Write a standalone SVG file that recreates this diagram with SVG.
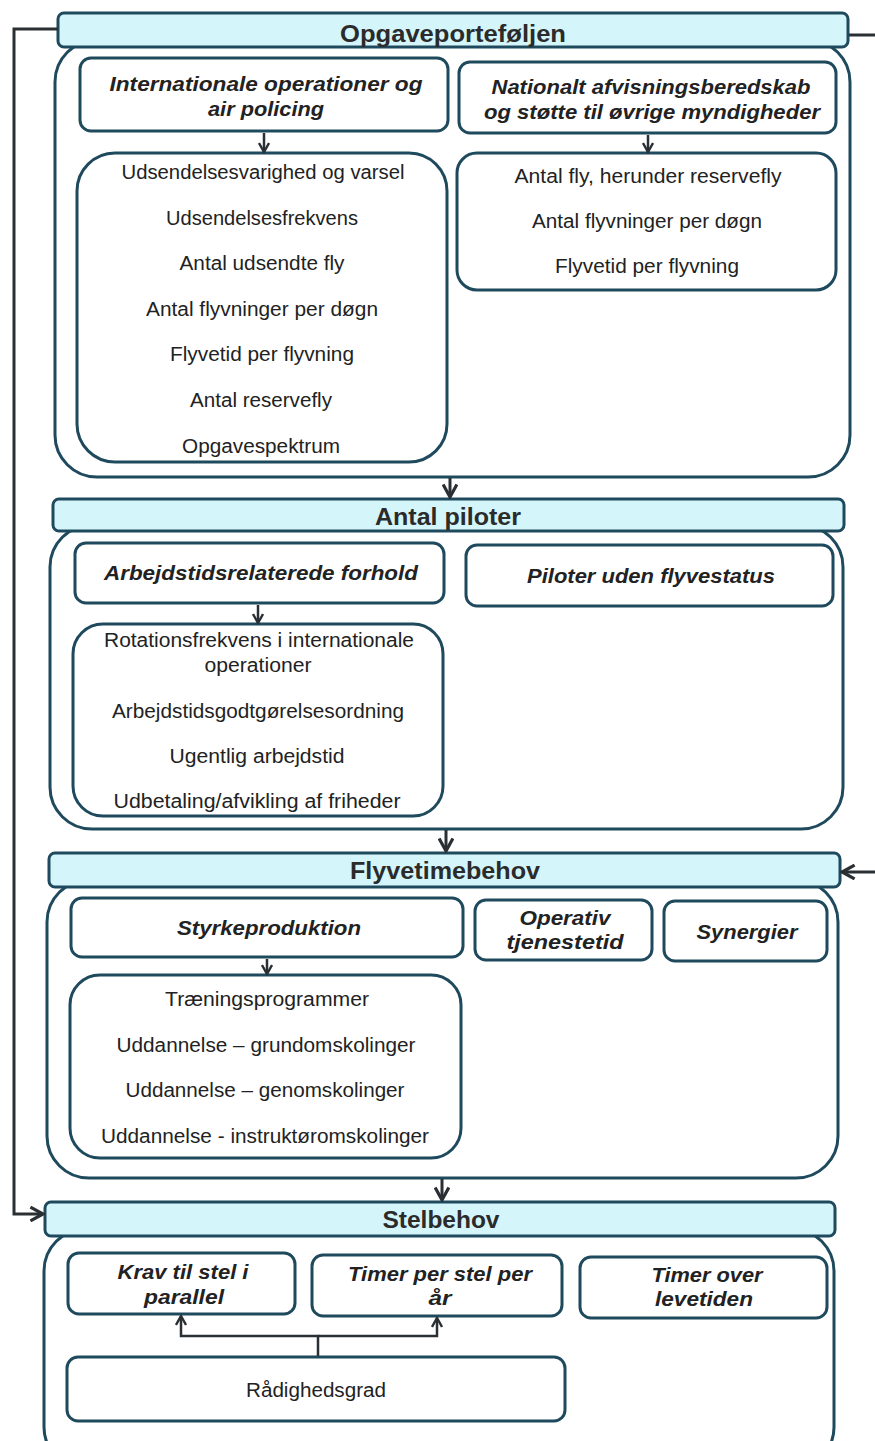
<svg xmlns="http://www.w3.org/2000/svg" width="875" height="1441" viewBox="0 0 875 1441">
<defs>
<marker id="ah" viewBox="0 0 12 12" refX="10" refY="6" markerWidth="12" markerHeight="12" markerUnits="userSpaceOnUse" orient="auto">
<path d="M1,1 L10,6 L1,11" fill="none" stroke="#2a2f33" stroke-width="2.4"/>
</marker>
<marker id="ahb" viewBox="0 0 14 14" refX="12" refY="7" markerWidth="16" markerHeight="16" markerUnits="userSpaceOnUse" orient="auto">
<path d="M1,1 L12,7 L1,13" fill="none" stroke="#2a2f33" stroke-width="2.8"/>
</marker>
</defs>
<style>
.cont{fill:#fff;stroke:#1f4a5d;stroke-width:3}
.hdr{fill:#d4f6fb;stroke:#1f4a5d;stroke-width:3}
.box{fill:#fff;stroke:#1f4a5d;stroke-width:3}
.ht{font-family:"Liberation Sans",Arial,sans-serif;font-weight:bold;font-size:24px;fill:#2b2b2b;text-anchor:middle}
.bt{font-family:"Liberation Sans",Arial,sans-serif;font-weight:bold;font-style:italic;font-size:21px;fill:#222;text-anchor:middle}
.lt{font-family:"Liberation Sans",Arial,sans-serif;font-size:20px;fill:#222;text-anchor:middle}
.ln{fill:none;stroke:#2a2f33;stroke-width:2.5}
.lb{fill:none;stroke:#2a2f33;stroke-width:3}
</style>

<g id="sec1">
<rect class="cont" x="55" y="40" width="795" height="437" rx="42"/>
<rect class="hdr" x="58" y="13" width="790" height="34" rx="6"/>
<text class="ht" x="453" y="42" textLength="226" lengthAdjust="spacingAndGlyphs">Opgaveporteføljen</text>
</g>
<g id="box-intl">
<rect class="box" x="80" y="58" width="368" height="73" rx="11"/>
<text class="bt" x="266" y="91" textLength="313" lengthAdjust="spacingAndGlyphs">Internationale operationer og</text>
<text class="bt" x="266" y="116" textLength="116" lengthAdjust="spacingAndGlyphs">air policing</text>
</g>
<g id="box-natl">
<rect class="box" x="459" y="62" width="377" height="71" rx="11"/>
<text class="bt" x="651" y="94" textLength="319" lengthAdjust="spacingAndGlyphs">Nationalt afvisningsberedskab</text>
<text class="bt" x="652" y="119" textLength="336" lengthAdjust="spacingAndGlyphs">og støtte til øvrige myndigheder</text>
</g>
<g id="list-intl">
<rect class="box" x="77" y="153" width="370" height="309" rx="38"/>
<text class="lt" x="263" y="179" textLength="283" lengthAdjust="spacingAndGlyphs">Udsendelsesvarighed og varsel</text>
<text class="lt" x="262" y="225" textLength="192" lengthAdjust="spacingAndGlyphs">Udsendelsesfrekvens</text>
<text class="lt" x="262" y="270" textLength="165" lengthAdjust="spacingAndGlyphs">Antal udsendte fly</text>
<text class="lt" x="262" y="316" textLength="232" lengthAdjust="spacingAndGlyphs">Antal flyvninger per døgn</text>
<text class="lt" x="262" y="361" textLength="184" lengthAdjust="spacingAndGlyphs">Flyvetid per flyvning</text>
<text class="lt" x="261" y="407" textLength="142" lengthAdjust="spacingAndGlyphs">Antal reservefly</text>
<text class="lt" x="261" y="453" textLength="158" lengthAdjust="spacingAndGlyphs">Opgavespektrum</text>
</g>
<g id="list-natl">
<rect class="box" x="457" y="153" width="379" height="137" rx="20"/>
<text class="lt" x="648" y="183" textLength="267" lengthAdjust="spacingAndGlyphs">Antal fly, herunder reservefly</text>
<text class="lt" x="647" y="228" textLength="230" lengthAdjust="spacingAndGlyphs">Antal flyvninger per døgn</text>
<text class="lt" x="647" y="273" textLength="184" lengthAdjust="spacingAndGlyphs">Flyvetid per flyvning</text>
</g>

<g id="sec2">
<rect class="cont" x="50" y="525" width="793" height="304" rx="42"/>
<rect class="hdr" x="53" y="499" width="791" height="32" rx="6"/>
<text class="ht" x="448" y="525" textLength="146" lengthAdjust="spacingAndGlyphs">Antal piloter</text>
</g>
<g id="box-arb">
<rect class="box" x="75" y="543" width="369" height="60" rx="11"/>
<text class="bt" x="261" y="580" textLength="314" lengthAdjust="spacingAndGlyphs">Arbejdstidsrelaterede forhold</text>
</g>
<g id="box-pil">
<rect class="box" x="466" y="545" width="367" height="61" rx="11"/>
<text class="bt" x="651" y="583" textLength="248" lengthAdjust="spacingAndGlyphs">Piloter uden flyvestatus</text>
</g>
<g id="list-arb">
<rect class="box" x="73" y="624" width="370" height="192" rx="30"/>
<text class="lt" x="259" y="647" textLength="310" lengthAdjust="spacingAndGlyphs">Rotationsfrekvens i internationale</text>
<text class="lt" x="258" y="672" textLength="107" lengthAdjust="spacingAndGlyphs">operationer</text>
<text class="lt" x="258" y="718" textLength="292" lengthAdjust="spacingAndGlyphs">Arbejdstidsgodtgørelsesordning</text>
<text class="lt" x="257" y="763" textLength="175" lengthAdjust="spacingAndGlyphs">Ugentlig arbejdstid</text>
<text class="lt" x="257" y="808" textLength="287" lengthAdjust="spacingAndGlyphs">Udbetaling/afvikling af friheder</text>
</g>

<g id="sec3">
<rect class="cont" x="47" y="880" width="791" height="298" rx="42"/>
<rect class="hdr" x="49" y="853" width="791" height="34" rx="6"/>
<text class="ht" x="445" y="879" textLength="190" lengthAdjust="spacingAndGlyphs">Flyvetimebehov</text>
</g>
<g id="box-styrke">
<rect class="box" x="71" y="898" width="392" height="59" rx="11"/>
<text class="bt" x="269" y="935" textLength="184" lengthAdjust="spacingAndGlyphs">Styrkeproduktion</text>
</g>
<g id="box-oper">
<rect class="box" x="475" y="900" width="177" height="60" rx="11"/>
<text class="bt" x="565" y="925" textLength="91" lengthAdjust="spacingAndGlyphs">Operativ</text>
<text class="bt" x="565" y="949" textLength="117" lengthAdjust="spacingAndGlyphs">tjenestetid</text>
</g>
<g id="box-syn">
<rect class="box" x="664" y="901" width="163" height="60" rx="11"/>
<text class="bt" x="747" y="939" textLength="101" lengthAdjust="spacingAndGlyphs">Synergier</text>
</g>
<g id="list-styrke">
<rect class="box" x="70" y="975" width="391" height="183" rx="30"/>
<text class="lt" x="267" y="1006" textLength="204" lengthAdjust="spacingAndGlyphs">Træningsprogrammer</text>
<text class="lt" x="266" y="1052" textLength="299" lengthAdjust="spacingAndGlyphs">Uddannelse – grundomskolinger</text>
<text class="lt" x="265" y="1097" textLength="279" lengthAdjust="spacingAndGlyphs">Uddannelse – genomskolinger</text>
<text class="lt" x="265" y="1143" textLength="328" lengthAdjust="spacingAndGlyphs">Uddannelse - instruktøromskolinger</text>
</g>

<g id="sec4">
<rect class="cont" x="44" y="1229" width="790" height="240" rx="42"/>
<rect class="hdr" x="45" y="1202" width="790" height="34" rx="6"/>
<text class="ht" x="441" y="1228" textLength="117" lengthAdjust="spacingAndGlyphs">Stelbehov</text>
</g>
<g id="box-krav">
<rect class="box" x="68" y="1253" width="227" height="61" rx="11"/>
<text class="bt" x="183" y="1279" textLength="131" lengthAdjust="spacingAndGlyphs">Krav til stel i</text>
<text class="bt" x="184" y="1304" textLength="80" lengthAdjust="spacingAndGlyphs">parallel</text>
</g>
<g id="box-timer">
<rect class="box" x="312" y="1255" width="250" height="61" rx="11"/>
<text class="bt" x="440" y="1281" textLength="184" lengthAdjust="spacingAndGlyphs">Timer per stel per</text>
<text class="bt" x="440" y="1305" textLength="23" lengthAdjust="spacingAndGlyphs">år</text>
</g>
<g id="box-lev">
<rect class="box" x="580" y="1257" width="247" height="61" rx="11"/>
<text class="bt" x="707" y="1282" textLength="111" lengthAdjust="spacingAndGlyphs">Timer over</text>
<text class="bt" x="704" y="1306" textLength="98" lengthAdjust="spacingAndGlyphs">levetiden</text>
</g>
<g id="box-raad">
<rect class="box" x="67" y="1357" width="498" height="64" rx="11"/>
<text class="lt" x="316" y="1397" textLength="140" lengthAdjust="spacingAndGlyphs">Rådighedsgrad</text>
</g>

<g id="connectors">
<line class="ln" x1="264" y1="133" x2="264" y2="152" marker-end="url(#ah)"/>
<line class="ln" x1="648" y1="135" x2="648" y2="152" marker-end="url(#ah)"/>
<line class="lb" x1="450" y1="478" x2="450" y2="497" marker-end="url(#ahb)"/>
<line class="ln" x1="258" y1="605" x2="258" y2="623" marker-end="url(#ah)"/>
<line class="lb" x1="446" y1="830" x2="446" y2="851" marker-end="url(#ahb)"/>
<line class="ln" x1="267" y1="959" x2="267" y2="974" marker-end="url(#ah)"/>
<line class="lb" x1="442" y1="1179" x2="442" y2="1200" marker-end="url(#ahb)"/>
<polyline class="ln" points="318,1356 318,1336 181,1336 181,1316" marker-end="url(#ah)"/>
<polyline class="ln" points="318,1336 437,1336 437,1318" marker-end="url(#ah)"/>
<polyline class="lb" points="58,29 14,29 14,1214 43,1214" marker-end="url(#ahb)"/>
<line class="lb" x1="849" y1="35" x2="875" y2="35"/>
<line class="lb" x1="875" y1="872" x2="842" y2="872" marker-end="url(#ahb)"/>
</g>
</svg>
